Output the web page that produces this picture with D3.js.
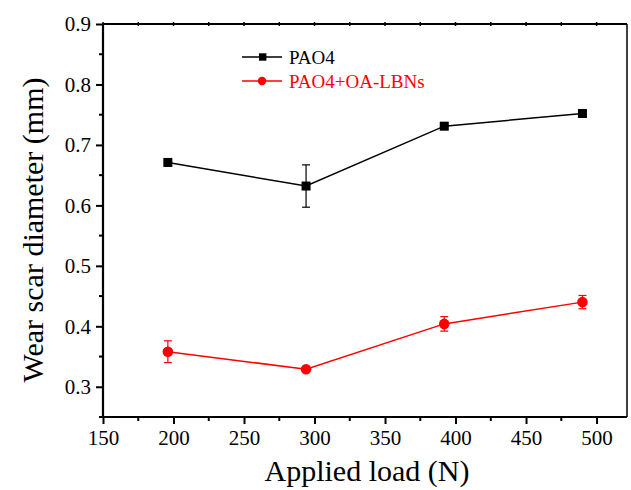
<!DOCTYPE html>
<html><head><meta charset="utf-8">
<script src="https://cdn.jsdelivr.net/npm/d3@7"></script>
<style>body{margin:0;background:#fff}svg{display:block}</style>
</head><body><svg id="c" width="631" height="490" font-family="'Liberation Serif','Times New Roman',serif"></svg>
<script>
const loads = [196, 294, 392, 490];
const pao4 = [0.671, 0.632, 0.731, 0.752];
const pao4Err = [0.003, 0.035, 0.003, 0.003];
const lbns = [0.358, 0.329, 0.404, 0.440];
const lbnsErr = [0.018, 0.003, 0.012, 0.011];
const xTicks = [150, 200, 250, 300, 350, 400, 450, 500];
const yTicks = [0.3, 0.4, 0.5, 0.6, 0.7, 0.8, 0.9];
const seriesNames = ["PAO4", "PAO4+OA-LBNs"];
const seriesColors = ["#000000", "#ff0000"];

const FONT = "'Liberation Serif','Times New Roman',serif";
const svg = d3.select("#c");
const L = 103, R = 627, T = 24, B = 417;
const x = d3.scaleLinear().domain([150, 521.6]).range([L, R]);
const y = d3.scaleLinear().domain([0.25, 0.9]).range([B, T]);

const xMinor = d3.range(175, 521, 50);
const yMinor = d3.range(0.25, 0.9, 0.1);

svg.append("line").attr("x1", L).attr("x2", R).attr("y1", T).attr("y2", T).attr("stroke", "#000").attr("stroke-width", 2);
svg.append("line").attr("x1", R).attr("x2", R).attr("y1", T).attr("y2", B).attr("stroke", "#000").attr("stroke-width", 1.5);

const xAxis = d3.axisBottom(x).tickValues(xTicks).tickSize(7).tickPadding(5).tickFormat(d3.format("d"));
const gx = svg.append("g").attr("transform", `translate(0,${B})`).call(xAxis).attr("font-family", FONT);
gx.select(".domain").attr("stroke-width", 2.2).attr("d", `M${L},0H${R}`);
gx.selectAll(".tick line").attr("stroke-width", 2);
gx.selectAll(".tick text").attr("font-size", 21).attr("font-family", FONT).attr("fill", "#000").attr("dy", "0.75em");
gx.selectAll(".minor").data(xMinor).enter().append("line")
  .attr("x1", d => x(d)).attr("x2", d => x(d)).attr("y1", 0).attr("y2", 4).attr("stroke", "#000").attr("stroke-width", 2);

svg.append("g").selectAll("line").data(xTicks.concat(xMinor)).enter().append("line")
  .attr("x1", d => x(d)).attr("x2", d => x(d)).attr("y1", T - 2).attr("y2", T + 2).attr("stroke", "#000").attr("stroke-width", 1.5);

const yAxis = d3.axisLeft(y).tickValues(yTicks).tickSize(7).tickPadding(5).tickFormat(d3.format(".1f"));
const gy = svg.append("g").attr("transform", `translate(${L},0)`).call(yAxis).attr("font-family", FONT);
gy.select(".domain").attr("stroke-width", 2.2).attr("d", `M0,${B}V${T}`);
gy.selectAll(".tick line").attr("stroke-width", 2);
gy.selectAll(".tick text").attr("font-size", 21).attr("font-family", FONT).attr("fill", "#000");
gy.selectAll(".minor").data(yMinor).enter().append("line")
  .attr("x1", 0).attr("x2", -4).attr("y1", d => y(d)).attr("y2", d => y(d)).attr("stroke", "#000").attr("stroke-width", 2);

svg.append("text").attr("x", 367).attr("y", 481).attr("text-anchor", "middle").attr("font-size", 30).attr("font-family", FONT).text("Applied load (N)");
svg.append("text").attr("transform", "translate(43,230) rotate(-90)").attr("text-anchor", "middle").attr("font-size", 30).attr("font-family", FONT).text("Wear scar diameter (mm)");

const series = [
  {vals: pao4, err: pao4Err, color: seriesColors[0], shape: "square"},
  {vals: lbns, err: lbnsErr, color: seriesColors[1], shape: "circle"}
];
const line = d3.line().x(d => x(d[0])).y(d => y(d[1]));
series.forEach(s => {
  const pts = loads.map((l, i) => [l, s.vals[i], s.err[i]]);
  svg.append("path").datum(pts).attr("d", line).attr("fill", "none").attr("stroke", s.color).attr("stroke-width", 1.5);
  const eb = svg.append("g").attr("stroke", s.color).attr("stroke-width", 1.2);
  pts.forEach(p => {
    eb.append("line").attr("x1", x(p[0])).attr("x2", x(p[0])).attr("y1", y(p[1] - p[2])).attr("y2", y(p[1] + p[2]));
    [p[1] - p[2], p[1] + p[2]].forEach(v => eb.append("line").attr("x1", x(p[0]) - 4).attr("x2", x(p[0]) + 4).attr("y1", y(v)).attr("y2", y(v)));
  });
  if (s.shape === "square") {
    svg.append("g").selectAll("rect").data(pts).enter().append("rect")
      .attr("x", d => x(d[0]) - 4.5).attr("y", d => y(d[1]) - 4.5).attr("width", 9).attr("height", 9).attr("fill", s.color);
  } else {
    svg.append("g").selectAll("circle").data(pts).enter().append("circle")
      .attr("cx", d => x(d[0])).attr("cy", d => y(d[1])).attr("r", 5.3).attr("fill", s.color);
  }
});

const leg = svg.append("g");
[57, 81].forEach((ly, i) => {
  leg.append("line").attr("x1", 242).attr("x2", 282).attr("y1", ly).attr("y2", ly).attr("stroke", seriesColors[i]).attr("stroke-width", 1.5);
  if (i === 0) leg.append("rect").attr("x", 259).attr("y", ly - 3.7).attr("width", 7.4).attr("height", 7.4).attr("fill", seriesColors[i]);
  else leg.append("circle").attr("cx", 262).attr("cy", ly).attr("r", 4.2).attr("fill", seriesColors[i]);
  leg.append("text").attr("x", 289).attr("y", ly + 6.5).attr("font-size", 19).attr("font-family", FONT).attr("fill", seriesColors[i]).text(seriesNames[i]);
});
</script></body></html>
